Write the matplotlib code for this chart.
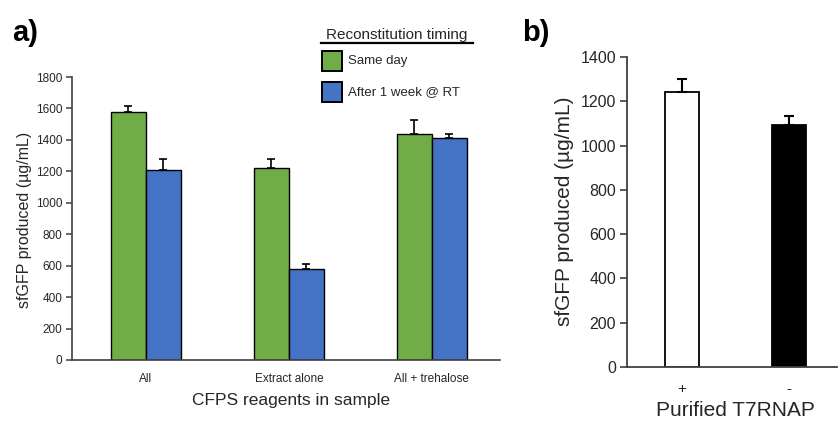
import matplotlib
matplotlib.use("Agg")
import matplotlib.pyplot as plt
from matplotlib.patches import Rectangle
from matplotlib.lines import Line2D

plt.rcParams['font.family'] = ['Liberation Sans', 'DejaVu Sans']

# Panel a data
categories_a = ["All", "Extract alone", "All + trehalose"]
same_day = [1575, 1220, 1435]
same_day_err = [40, 60, 90]
week_rt = [1208, 580, 1410]
week_rt_err = [70, 30, 30]
series_names = ["Same day", "After 1 week @ RT"]
yticks_a = [0, 200, 400, 600, 800, 1000, 1200, 1400, 1600, 1800]

# Panel b data
categories_b = ["+", "-"]
t7_values = [1240, 1092]
t7_err = [62, 40]
yticks_b = [0, 200, 400, 600, 800, 1000, 1200, 1400]

green = "#70AD47"
blue = "#4472C4"
spine_c = "#404040"
text_c = "#262626"

W, H = 838, 421
fig = plt.figure(figsize=(W / 100, H / 100), dpi=100)

def fx(px):
    return px / W

def fy(py):
    return 1 - py / H

# ---------- Panel a ----------
ax = fig.add_axes([fx(72), fy(360), fx(500) - fx(72), fy(77) - fy(360)])
bw = 0.245
xs = list(range(len(categories_a)))
err_kw = dict(ecolor="black", elinewidth=1.2, capsize=3, capthick=1.2)
ax.bar([x - bw / 2 for x in xs], same_day, width=bw, color=green, edgecolor="black",
       linewidth=1.0, yerr=[[0] * 3, same_day_err], error_kw=err_kw, zorder=2)
ax.bar([x + bw / 2 for x in xs], week_rt, width=bw, color=blue, edgecolor="black",
       linewidth=1.0, yerr=[[0] * 3, week_rt_err], error_kw=err_kw, zorder=2)
ax.set_xlim(-0.517, 2.476)
ax.set_ylim(0, 1800)
ax.set_yticks(yticks_a)
ax.set_xticks(xs)
ax.set_xticklabels(categories_a)
ax.tick_params(axis='x', length=0, labelsize=8.5, colors=text_c, pad=9)
ax.tick_params(axis='y', length=4, width=1.1, color=spine_c, labelsize=8.5, labelcolor=text_c, pad=3)
for s in ["top", "right"]:
    ax.spines[s].set_visible(False)
for s in ["left", "bottom"]:
    ax.spines[s].set_color(spine_c)
    ax.spines[s].set_linewidth(1.2)
fig.text(fx(291), fy(400), "CFPS reagents in sample", ha="center", va="center",
         fontsize=12.5, color=text_c)
fig.text(fx(25), fy(220), "sfGFP produced (µg/mL)", ha="center", va="center",
         rotation=90, fontsize=11.5, color=text_c)

# Legend (custom)
fig.text(fx(397), fy(35), "Reconstitution timing", ha="center", va="center",
         fontsize=11, color=text_c)
fig.add_artist(Line2D([fx(321), fx(473)], [fy(43), fy(43)], color="black", linewidth=1.6))
fig.add_artist(Rectangle((fx(322), fy(71)), fx(20), fy(51) - fy(71), facecolor=green,
                         edgecolor="black", linewidth=1.4, transform=fig.transFigure))
fig.add_artist(Rectangle((fx(322), fy(102)), fx(20), fy(82) - fy(102), facecolor=blue,
                         edgecolor="black", linewidth=1.4, transform=fig.transFigure))
fig.text(fx(348), fy(61), series_names[0], ha="left", va="center", fontsize=9.5, color=text_c)
fig.text(fx(348), fy(92), series_names[1], ha="left", va="center", fontsize=9.5, color=text_c)

fig.text(fx(12), fy(33), "a)", ha="left", va="center", fontsize=21, fontweight="bold", color="black")

# ---------- Panel b ----------
bx = fig.add_axes([fx(627), fy(367), fx(837) - fx(627), fy(57) - fy(367)])
bw2 = 0.316
xb = list(range(len(categories_b)))
bx.bar(xb, t7_values, width=bw2, color=["white", "black"], edgecolor="black", linewidth=1.3,
       yerr=[[0, 0], t7_err], error_kw=dict(ecolor="black", elinewidth=1.5, capsize=3.5, capthick=1.5),
       zorder=2)
bx.set_xlim(-0.512, 1.451)
bx.set_ylim(0, 1400)
bx.set_yticks(yticks_b)
bx.set_xticks(xb)
bx.set_xticklabels(categories_b)
bx.tick_params(axis='x', length=0, labelsize=11, colors=text_c, pad=11)
bx.tick_params(axis='y', length=5, width=1.2, color=spine_c, labelsize=11.5, labelcolor=text_c, pad=3)
for s in ["top", "right"]:
    bx.spines[s].set_visible(False)
for s in ["left", "bottom"]:
    bx.spines[s].set_color(spine_c)
    bx.spines[s].set_linewidth(1.3)
fig.text(fx(735), fy(411), "Purified T7RNAP", ha="center", va="center", fontsize=15, color=text_c)
fig.text(fx(565), fy(211), "sfGFP produced (µg/mL)", ha="center", va="center",
         rotation=90, fontsize=15, color=text_c)
fig.text(fx(522), fy(33), "b)", ha="left", va="center", fontsize=21, fontweight="bold", color="black")

fig.savefig("out.png", dpi=100)
